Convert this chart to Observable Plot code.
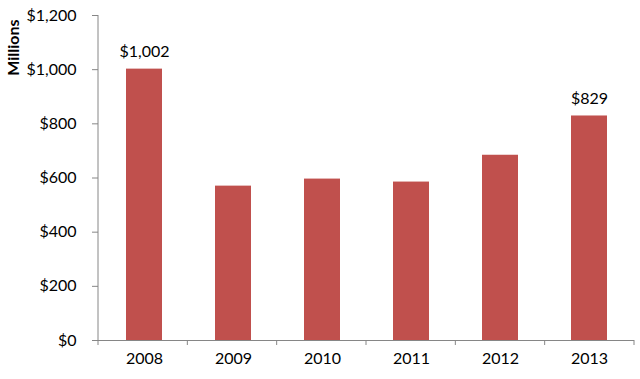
<!DOCTYPE html>
<html><head><meta charset="utf-8">
<script src="https://cdn.jsdelivr.net/npm/d3@7"></script>
<script src="https://cdn.jsdelivr.net/npm/@observablehq/plot@0.6"></script>
<style>body{margin:0;background:#fff;}</style>
</head><body><div id="chart"></div>
<script>
const years = ["2008","2009","2010","2011","2012","2013"];
const values = [1002, 570, 596, 585, 684, 829];
const labelYears = ["2008","2013"];
const yTicks = [0,200,400,600,800,1000,1200];
const yTitle = "Millions";

const data = years.map((y,i)=>({year:y, value: values[i]}));
const labelled = data.filter(d => labelYears.includes(d.year));
const fmt = d3.format("$,");
const axisColor = "#868686";

function axisLines(index, scales, vals, dims) {
  const g = d3.create("svg:g").attr("stroke", axisColor).attr("fill","none").attr("stroke-width",1);
  const y = scales.y;
  const left = dims.marginLeft, right = dims.width - dims.marginRight;
  const n = years.length, step = (right-left)/n;
  const y0 = y(0);
  g.append("line").attr("x1", left).attr("x2", left).attr("y1", y(yTicks[yTicks.length-1])).attr("y2", y0);
  for (let i = 0; i <= n; i++) {
    const xx = left + i*step;
    g.append("line").attr("x1", xx).attr("x2", xx).attr("y1", y0).attr("y2", y0 + 5);
  }
  return g.node();
}

const chart = Plot.plot({
  width: 640, height: 379,
  marginLeft: 98, marginRight: 6, marginTop: 15, marginBottom: 39,
  style: {fontFamily: "Lato, sans-serif", fontSize: "16px", color: "#000", background: "#fff"},
  x: {domain: years, paddingInner: 0.6, paddingOuter: 0.3, label: null},
  y: {domain: [0, 1200], label: null},
  marks: [
    Plot.barY(data, {x: "year", y: "value", fill: "#C0504D"}),
    Plot.ruleY([0], {stroke: axisColor}),
    axisLines,
    Plot.axisY(yTicks, {tickSize: 6, tickPadding: 16, tickFormat: fmt, stroke: axisColor, fill: "#000", fontSize: 16, label: null}),
    Plot.axisX({tickSize: 0, tickPadding: 12, fill: "#000", fontSize: 16, label: null}),
    Plot.text(labelled, {x: "year", y: "value", text: d => fmt(d.value), lineAnchor: "bottom", dy: -12, fontSize: 16, fill: "#000"}),
    Plot.text([yTitle], {text: d => d, frameAnchor: "top-left", rotate: -90, textAnchor: "end", lineAnchor: "middle", dx: -85, dy: 4, fontWeight: "bold", fontSize: 16, fill: "#000"})
  ]
});
document.getElementById("chart").appendChild(chart);
</script>
</body></html>
